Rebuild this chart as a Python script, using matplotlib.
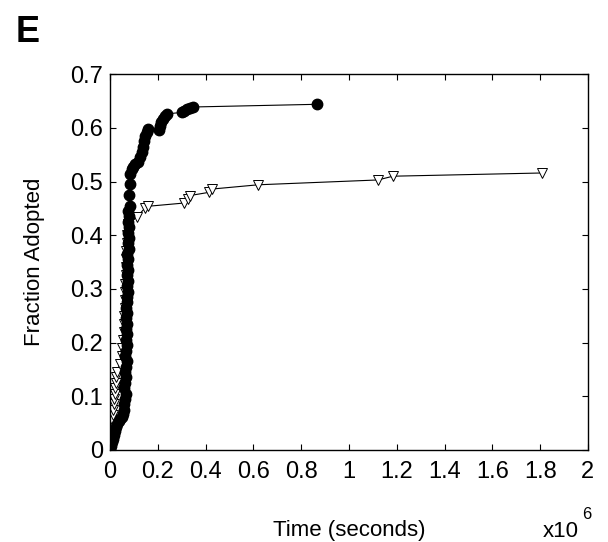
import matplotlib
matplotlib.use("Agg")
import matplotlib.pyplot as plt

plt.rcParams['font.family'] = ['Liberation Sans', 'DejaVu Sans']

# Filled circles series (time in units of 1e6 s)
circ_x = [0.000, 0.004, 0.008, 0.012, 0.016, 0.020, 0.025, 0.030, 0.036, 0.042, 0.048,
          0.055, 0.060, 0.057, 0.062, 0.066, 0.059, 0.064, 0.068, 0.061, 0.066, 0.070,
          0.063, 0.068, 0.072, 0.065, 0.070, 0.066, 0.071, 0.067, 0.072, 0.068, 0.073,
          0.069, 0.074, 0.070, 0.075, 0.071, 0.076, 0.072, 0.077, 0.073, 0.078, 0.074,
          0.079, 0.075, 0.080, 0.076, 0.081, 0.077, 0.082, 0.079, 0.083, 0.085,
          0.090, 0.097, 0.106, 0.116, 0.125, 0.132, 0.138, 0.143, 0.148, 0.153, 0.158,
          0.205, 0.210, 0.215, 0.221, 0.228, 0.238,
          0.300, 0.310, 0.322, 0.335, 0.348, 0.866]
circ_y = [0.000, 0.007, 0.014, 0.021, 0.028, 0.035, 0.042, 0.048, 0.054, 0.058, 0.062,
          0.066, 0.075, 0.085, 0.095, 0.105, 0.115, 0.125, 0.135, 0.145, 0.155, 0.165,
          0.175, 0.185, 0.195, 0.205, 0.215, 0.225, 0.235, 0.245, 0.255, 0.265, 0.275,
          0.285, 0.295, 0.305, 0.315, 0.325, 0.335, 0.345, 0.355, 0.365, 0.375, 0.385,
          0.395, 0.405, 0.415, 0.425, 0.435, 0.445, 0.455, 0.475, 0.495, 0.515,
          0.524, 0.528, 0.532, 0.537, 0.545, 0.555, 0.565, 0.575, 0.585, 0.593, 0.598,
          0.597, 0.604, 0.611, 0.617, 0.622, 0.626,
          0.629, 0.632, 0.635, 0.637, 0.639, 0.644]

# Open triangles series
tri_x = [0.000, 0.003, 0.006, 0.008, 0.010, 0.012, 0.014, 0.016, 0.018, 0.020, 0.022,
         0.024, 0.026, 0.030, 0.040, 0.048, 0.052, 0.055, 0.057, 0.059, 0.060, 0.061,
         0.062, 0.063, 0.064, 0.065, 0.066, 0.067, 0.068, 0.069, 0.070, 0.074,
         0.112, 0.145, 0.160, 0.310, 0.325, 0.335, 0.415, 0.425, 0.620, 1.121, 1.184, 1.807]
tri_y = [0.000, 0.015, 0.030, 0.045, 0.055, 0.065, 0.075, 0.085, 0.095, 0.105, 0.115,
         0.125, 0.135, 0.145, 0.160, 0.175, 0.190, 0.205, 0.220, 0.235, 0.250, 0.265,
         0.280, 0.295, 0.310, 0.325, 0.340, 0.355, 0.370, 0.385, 0.400, 0.420,
         0.434, 0.450, 0.454, 0.460, 0.468, 0.474, 0.480, 0.486, 0.494, 0.503, 0.510, 0.516]

x_ticks = [0, 0.2, 0.4, 0.6, 0.8, 1.0, 1.2, 1.4, 1.6, 1.8, 2.0]
x_tick_labels = ["0", "0.2", "0.4", "0.6", "0.8", "1", "1.2", "1.4", "1.6", "1.8", "2"]
y_ticks = [0, 0.1, 0.2, 0.3, 0.4, 0.5, 0.6, 0.7]
y_tick_labels = ["0", "0.1", "0.2", "0.3", "0.4", "0.5", "0.6", "0.7"]

fig = plt.figure(figsize=(6.08, 5.42), dpi=100)
ax = fig.add_axes([0.181, 0.170, 0.786, 0.693])

ax.plot(tri_x, tri_y, color='black', lw=0.8, marker='v', markersize=7.5,
        markerfacecolor='white', markeredgecolor='black', markeredgewidth=0.7)
ax.plot(circ_x, circ_y, color='black', lw=0.8, marker='o', markersize=7.5,
        markerfacecolor='black', markeredgecolor='black')

ax.set_xlim(0, 2)
ax.set_ylim(0, 0.7)
ax.set_xticks(x_ticks)
ax.set_xticklabels(x_tick_labels)
ax.set_yticks(y_ticks)
ax.set_yticklabels(y_tick_labels)
ax.tick_params(direction='in', length=4, width=0.8, top=True, right=True,
               labelsize=17, pad=5)
ax.tick_params(axis='x', pad=8)
for s in ax.spines.values():
    s.set_linewidth(1.0)

ax.set_xlabel("Time (seconds)", fontsize=16, labelpad=27)
ax.set_ylabel("Fraction Adopted", fontsize=16, labelpad=18)

fig.text(0.893, 0.010, "x10", fontsize=16, ha='left', va='baseline')
fig.text(0.958, 0.042, "6", fontsize=12, ha='left', va='baseline')
fig.text(0.026, 0.922, "E", fontsize=26, fontweight='bold')

fig.savefig("out.png", dpi=100)
